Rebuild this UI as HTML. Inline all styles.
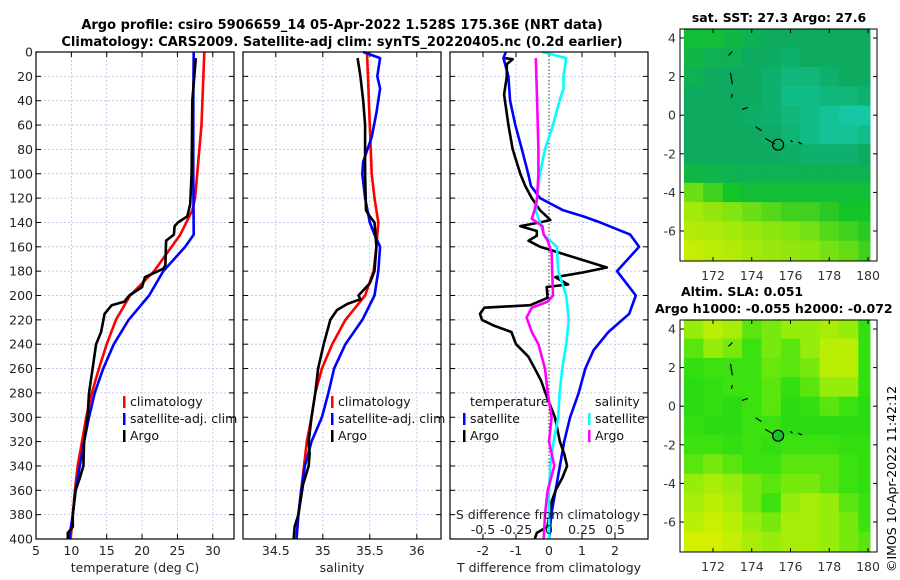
<!DOCTYPE html>
<html><head><meta charset="utf-8"><style>
body{margin:0;background:#fff;width:900px;height:580px;overflow:hidden}
svg{display:block;font-family:"DejaVu Sans","Liberation Sans",sans-serif}
</style></head><body>
<svg id="chart" width="900" height="580" viewBox="0 0 900 580" xmlns="http://www.w3.org/2000/svg">
<g font-weight="bold" font-size="13" text-anchor="middle" fill="#000">
<text x="342" y="29">Argo profile: csiro 5906659_14 05-Apr-2022 1.528S 175.36E (NRT data)</text>
<text x="342" y="46">Climatology: CARS2009. Satellite-adj clim: synTS_20220405.nc (0.2d earlier)</text>
</g>
<text x="779" y="22" font-weight="bold" font-size="12.5" text-anchor="middle">sat. SST: 27.3 Argo: 27.6</text>
<text x="681" y="296" font-weight="bold" font-size="12.5">Altim. SLA: 0.051</text>
<text x="655" y="313" font-weight="bold" font-size="12.5">Argo h1000: -0.055 h2000: -0.072</text>
<text transform="translate(896,572) rotate(-90)" font-size="12.5">©IMOS 10-Apr-2022 11:42:12</text>
</svg>
<script>
// ---- data ----
const depthTicks=[0,20,40,60,80,100,120,140,160,180,200,220,240,260,280,300,320,340,360,380,400];
const tempTicks=[5,10,15,20,25,30];
const salTicks=[34.5,35,35.5,36];
const tdiffTicks=[-2,-1,0,1,2];
const sdiffTicks=[-0.5,-0.25,0,0.25,0.5];
const sdiffLabels=["-0.5","-0.25","0","0.25","0.5"];
const climTempDepth=[0,60,100,120,130,150,180,200,220,240,260,280,300,320,340,360,380,400];
const climTemp=[28.8,28.4,27.8,27.5,27.1,25.4,21.7,18.3,16.3,15,13.9,12.9,12.1,11.5,10.9,10.5,10.2,9.9];
const satTempDepth=[0,40,100,150,160,180,200,220,240,260,280,300,320,340,360,380,400];
const satTemp=[27.3,27.25,27.25,27.3,26.1,23,21,18.1,16,14.5,13.3,12.5,11.8,11.2,10.6,10.2,9.7];
const argoTempDepth=[5,40,100,125,135,140,143,150,155,175,178,185,193,200,205,208,215,230,240,260,280,300,320,340,350,360,380,390,395,400];
const argoTemp=[27.6,27.1,27.0,26.8,26.4,25.1,24.6,24.5,23.4,23.3,23,20.4,20,18.2,17.5,15.7,14.7,14.2,13.5,13,12.5,12.3,11.8,11.7,11.2,10.6,10.2,10.2,9.5,9.5];
const climSalDepth=[0,60,100,120,140,160,180,200,220,240,260,280,300,320,340,360,380,400];
const climSal=[35.47,35.5,35.52,35.55,35.59,35.57,35.54,35.45,35.24,35.1,34.99,34.92,34.88,34.83,34.8,34.77,34.74,34.72];
const satSalDepth=[0,5,20,30,50,70,90,100,120,140,150,160,180,200,220,240,260,280,300,320,340,360,380,400];
const satSal=[35.43,35.61,35.58,35.61,35.57,35.52,35.43,35.42,35.45,35.5,35.55,35.61,35.59,35.55,35.42,35.24,35.12,35.06,34.99,34.88,34.81,34.77,34.74,34.72];
const argoSalDepth=[5,20,40,60,100,130,135,140,160,180,190,200,203,207,212,220,240,260,280,300,320,330,340,355,380,390,400];
const argoSal=[35.37,35.4,35.43,35.45,35.45,35.46,35.5,35.55,35.57,35.55,35.5,35.38,35.4,35.26,35.15,35.08,35.01,34.95,34.92,34.88,34.85,34.86,34.85,34.79,34.74,34.7,34.69];
const satTdDepth=[0,5,20,40,60,80,100,110,120,130,135,140,150,160,180,200,215,230,245,260,280,300,320,340,360,380,400];
const satTd=[-1.31,-1.38,-1.23,-1.18,-1.02,-0.82,-0.63,-0.55,-0.27,0.43,1.04,1.55,2.46,2.73,2.06,2.63,2.43,1.8,1.35,1.1,0.9,0.64,0.46,0.33,0.2,0.07,0.0];
const argoTdDepth=[5,6,10,20,35,60,80,100,110,120,130,135,138,140,143,147,151,155,160,177,181,185,191,193,200,202,208,210,215,220,225,230,240,250,260,270,280,300,320,330,340,350,360,370,390,395,400];
const argoTd=[-1.33,-1.1,-1.28,-1.28,-1.36,-1.23,-1.1,-0.87,-0.72,-0.52,-0.27,-0.07,0.04,-0.27,-0.87,-0.37,-0.37,-0.62,-0.27,1.75,1.04,0.19,0.58,-0.07,-0.05,-0.05,-0.57,-1.96,-2.09,-2.03,-1.65,-1.14,-1.0,-0.63,-0.43,-0.24,-0.11,0.18,0.33,0.46,0.55,0.4,0.2,0.07,-0.05,-0.37,-0.43];
const satSdDepth=[0,5,20,30,40,60,80,100,120,130,140,150,160,180,200,220,240,260,280,300,320,340,360,380,400];
const satSd=[-0.05,0.13,0.11,0.11,0.08,0.03,-0.03,-0.07,-0.09,-0.1,-0.07,-0.04,0.06,0.07,0.13,0.15,0.13,0.1,0.08,0.07,0.035,0.01,0,0,0];
const argoSdDepth=[5,40,80,100,120,130,137,140,143,150,155,165,200,205,210,218,230,240,260,280,300,320,340,360,380,400];
const argoSd=[-0.1,-0.09,-0.08,-0.08,-0.09,-0.11,-0.13,-0.09,-0.05,-0.04,-0.01,0.02,0.03,-0.01,-0.13,-0.17,-0.13,-0.08,-0.03,-0.01,0.02,0,0.04,-0.01,-0.03,-0.04];
const lonTicks=[172,174,176,178,180];
const latTicks=[4,2,0,-2,-4,-6];
// map grids: rows lat 4 .. -7, cols lon 170.5..180
const sstGrid=[
[0.45,0.45,0.4,0.35,0.3,0.3,0.3,0.3,0.3,0.3],
[0.4,0.35,0.35,0.3,0.3,0.25,0.3,0.3,0.3,0.3],
[0.35,0.3,0.3,0.3,0.25,0.2,0.2,0.25,0.3,0.3],
[0.3,0.3,0.3,0.3,0.25,0.15,0.15,0.2,0.2,0.25],
[0.3,0.3,0.3,0.28,0.25,0.2,0.15,0.1,0.05,0.05],
[0.3,0.3,0.3,0.3,0.28,0.22,0.15,0.1,0.1,0.15],
[0.3,0.3,0.3,0.3,0.3,0.28,0.25,0.25,0.25,0.3],
[0.4,0.38,0.35,0.35,0.35,0.35,0.35,0.35,0.35,0.35],
[0.7,0.6,0.5,0.45,0.45,0.45,0.45,0.45,0.45,0.45],
[0.85,0.8,0.75,0.7,0.65,0.6,0.6,0.55,0.5,0.5],
[0.9,0.88,0.85,0.82,0.78,0.75,0.72,0.65,0.6,0.55],
[0.95,0.92,0.9,0.85,0.82,0.8,0.78,0.72,0.68,0.6]];
const slaGrid=[
[0.6,0.8,0.7,0.4,0.5,0.6,0.6,0.7,0.6,0.2],
[0.4,0.6,0.5,0.3,0.5,0.4,0.6,0.8,0.8,0.2],
[0.2,0.3,0.3,0.3,0.45,0.4,0.5,0.8,0.8,0.2],
[0.1,0.2,0.3,0.3,0.4,0.2,0.4,0.6,0.6,0.2],
[0.1,0.2,0.1,0.3,0.4,0.1,0.2,0.4,0.3,0.1],
[0.2,0.1,0.1,0.3,0.3,0.1,0.1,0.1,0.1,0.1],
[0.3,0.3,0.2,0.3,0.2,0.3,0.3,0.3,0.2,0.2],
[0.4,0.5,0.4,0.3,0.3,0.4,0.4,0.4,0.3,0.2],
[0.6,0.7,0.6,0.5,0.4,0.5,0.5,0.4,0.3,0.2],
[0.7,0.8,0.7,0.5,0.3,0.6,0.7,0.6,0.4,0.3],
[0.8,0.9,0.8,0.6,0.5,0.7,0.7,0.6,0.5,0.3],
[0.95,0.95,0.85,0.7,0.6,0.7,0.7,0.6,0.5,0.4]];
const argoLon=175.36, argoLat=-1.528;

// ---- drawing ----
const NS='http://www.w3.org/2000/svg';
const svg=document.getElementById('chart');
function mk(tag,attrs,parent){const e=document.createElementNS(NS,tag);for(const k in attrs)e.setAttribute(k,attrs[k]);(parent||svg).appendChild(e);return e;}
const Y0=52,Y1=539;
const yD=d=>Y0+(d/400)*(Y1-Y0);
function linX(a,b,x0,x1){return v=>x0+(v-a)/(b-a)*(x1-x0);}
const panels=[
 {name:'temperature-panel',x0:36,x1:234,xs:linX(5,33,36,234),ticks:tempTicks,title:'temperature (deg C)'},
 {name:'salinity-panel',x0:243,x1:441,xs:linX(35,36,322.8,416.8),ticks:salTicks,title:'salinity'},
 {name:'difference-panel',x0:450,x1:648,xs:linX(-3,3,450,648),ticks:tdiffTicks,title:'T difference from climatology'}];
panels.forEach((p,pi)=>{
 const g=mk('g',{});
 
 
 depthTicks.forEach(d=>{
  const l=mk('line',{x1:p.x0,x2:p.x1,y1:yD(d),y2:yD(d),stroke:'#b8bfe6','stroke-width':0.8,'stroke-dasharray':'2,2'},g);
  
  
  mk('line',{x1:p.x0,x2:p.x0+5,y1:yD(d),y2:yD(d),stroke:'#000'},g);
  mk('line',{x1:p.x1-5,x2:p.x1,y1:yD(d),y2:yD(d),stroke:'#000'},g);
  if(pi===0){const t=mk('text',{x:p.x0-3,y:yD(d)+4.5,'text-anchor':'end','font-size':12.5,fill:'#222'},g);t.textContent=d;
   
   }
 });
 p.ticks.forEach((v,i)=>{
  const x=p.xs(v);
  if(!(pi===2&&v===0)){const l=mk('line',{x1:x,x2:x,y1:Y0,y2:Y1,stroke:'#b8bfe6','stroke-width':0.8,'stroke-dasharray':'2,2'},g);
   
   }
  mk('line',{x1:x,x2:x,y1:Y1,y2:Y1-5,stroke:'#000'},g);
  mk('line',{x1:x,x2:x,y1:Y0,y2:Y0+5,stroke:'#000'},g);
  const t=mk('text',{x:x,y:555,'text-anchor':'middle','font-size':12.5,fill:'#222'},g);t.textContent=v;
  
  
 });
 const tt=mk('text',{x:(p.x0+p.x1)/2,y:572,'text-anchor':'middle','font-size':12.5,fill:'#222'},g);tt.textContent=p.title;
 
 
 p.g=g;
});
// zero dotted line
const zl=mk('line',{x1:panels[2].xs(0),x2:panels[2].xs(0),y1:Y0,y2:Y1,stroke:'#333','stroke-width':1,'stroke-dasharray':'1.5,2'});


const sdx=linX(-0.75,0.75,450,648);
function series(depths,vals,xs,color,name,w){
 const pts=depths.map((d,i)=>xs(vals[i]).toFixed(1)+','+yD(d).toFixed(1)).join(' ');
 const pl=mk('polyline',{points:pts,fill:'none',stroke:color,'stroke-width':w||2.6,'stroke-linejoin':'round'});
 
 
}
series(climTempDepth,climTemp,panels[0].xs,'#f00','climatology-temperature-line');
series(satTempDepth,satTemp,panels[0].xs,'#00f','satellite-temperature-line');
series(argoTempDepth,argoTemp,panels[0].xs,'#000','argo-temperature-line');
series(climSalDepth,climSal,panels[1].xs,'#f00','climatology-salinity-line');
series(satSalDepth,satSal,panels[1].xs,'#00f','satellite-salinity-line');
series(argoSalDepth,argoSal,panels[1].xs,'#000','argo-salinity-line');
series(satTdDepth,satTd,panels[2].xs,'#00f','satellite-t-diff-line');
series(argoTdDepth,argoTd,panels[2].xs,'#000','argo-t-diff-line');
series(satSdDepth,satSd,sdx,'#0ff','satellite-s-diff-line');
series(argoSdDepth,argoSd,sdx,'#f0f','argo-s-diff-line');
// frames
panels.forEach(p=>{const r=mk('rect',{x:p.x0,y:Y0,width:p.x1-p.x0,height:Y1-Y0,fill:'none',stroke:'#000','stroke-width':1.2});
 
 });
// S diff axis labels
const sl=mk('text',{x:548,y:519,'text-anchor':'middle','font-size':12.5,fill:'#222'});sl.textContent='S difference from climatology';


sdiffTicks.forEach((v,i)=>{const t=mk('text',{x:sdx(v),y:534,'text-anchor':'middle','font-size':12.5,fill:'#222'});t.textContent=sdiffLabels[i];
 
 });
// legends
function legend(x,y,color,label){
 const g=mk('g',{});
 
 
 mk('rect',{x:x,y:y-10,width:2.5,height:12,fill:color},g);
 const t=mk('text',{x:x+7,y:y,'font-size':12.5,fill:'#111'},g);t.textContent=label;
}
[[123,'#f00','climatology'],[123,'#00f','satellite-adj. clim'],[123,'#000','Argo']].forEach((e,i)=>legend(e[0],406+i*17,e[1],e[2]));
[[331,'#f00','climatology'],[331,'#00f','satellite-adj. clim'],[331,'#000','Argo']].forEach((e,i)=>legend(e[0],406+i*17,e[1],e[2]));
const lt1=mk('text',{x:470,y:406,'font-size':12.5,fill:'#111'});lt1.textContent='temperature';


const lt2=mk('text',{x:595,y:406,'font-size':12.5,fill:'#111'});lt2.textContent='salinity';


legend(463,423,'#00f','satellite');legend(463,440,'#000','Argo');
legend(588,423,'#0ff','satellite');legend(588,440,'#f0f','Argo');

// maps
function lerp(a,b,t){return a.map((v,i)=>Math.round(v+(b[i]-v)*t));}
function cmap(stops,v){for(let i=1;i<stops.length;i++){if(v<=stops[i][0]){const t=(v-stops[i-1][0])/(stops[i][0]-stops[i-1][0]);return 'rgb('+lerp(stops[i-1][1],stops[i][1],t).join(',')+')';}}return 'rgb('+stops[stops.length-1][1].join(',')+')';}
const sstStops=[[0,[22,206,176]],[0.3,[14,170,96]],[0.5,[18,196,40]],[0.75,[130,228,16]],[1,[212,240,0]]];
const slaStops=[[0,[34,216,20]],[0.3,[60,226,16]],[0.6,[150,236,10]],[1,[220,240,0]]];
function drawMap(name,top,grid,stops,filledMarker){
 const g=mk('g',{});
 
 
 const lonX=linX(172,180,713,868), lat4=top+9, latY=v=>lat4+(4-v)*19.3;
 const lons=[170.5,171.5,172.5,173.5,174.5,175.5,176.5,177.5,178.5,179.5,180.1];
 grid.forEach((row,r)=>row.forEach((v,c)=>{
  const x=lonX(lons[c]), x2=lonX(lons[c+1]);
  const y=latY(4.5-r), y2=latY(3.5-r);
  const cell=mk('rect',{x:x.toFixed(1),y:y.toFixed(1),width:(x2-x+0.6).toFixed(1),height:(y2-y+0.6).toFixed(1),fill:cmap(stops,v)},g);
  
  
 }));
 // islands
 const isl=[[173,3.3,172.8,3.1],[172.9,2.2,173,1.6],[173,1.1,172.95,0.9],[173.5,0.3,173.8,0.4],[174.2,-0.6,174.5,-0.8],[174.7,-1.2,175.2,-1.5],[176,-1.3,176.1,-1.4],[176.4,-1.4,176.6,-1.5]];
 isl.forEach(s=>{const l=mk('line',{x1:lonX(s[0]),y1:latY(s[1]),x2:lonX(s[2]),y2:latY(s[3]),stroke:'#000','stroke-width':1.2},g);
  
  });
 const m=mk('circle',{cx:lonX(argoLon),cy:latY(argoLat),r:5.5,fill:filledMarker?'#18c030':'none',stroke:'#000','stroke-width':1.2},g);
 
 
 const fr=mk('rect',{x:680,y:top,width:197,height:232,fill:'none',stroke:'#000','stroke-width':1},g);
 
 
 lonTicks.forEach(v=>{const x=lonX(v);
  mk('line',{x1:x,x2:x,y1:top+232,y2:top+228,stroke:'#000'},g);
  mk('line',{x1:x,x2:x,y1:top,y2:top+4,stroke:'#000'},g);
  const t=mk('text',{x:x,y:top+251,'text-anchor':'middle','font-size':12.5,fill:'#333'},g);t.textContent=v;
  
  });
 latTicks.forEach(v=>{const y=latY(v);
  mk('line',{x1:680,x2:684,y1:y,y2:y,stroke:'#000'},g);
  mk('line',{x1:873,x2:877,y1:y,y2:y,stroke:'#000'},g);
  const t=mk('text',{x:676,y:y+4.5,'text-anchor':'end','font-size':12.5,fill:'#333'},g);t.textContent=v;
  
  });
}
drawMap('sst-map',29,sstGrid,sstStops,false);
drawMap('sla-map',320,slaGrid,slaStops,true);
</script>
</body></html>
